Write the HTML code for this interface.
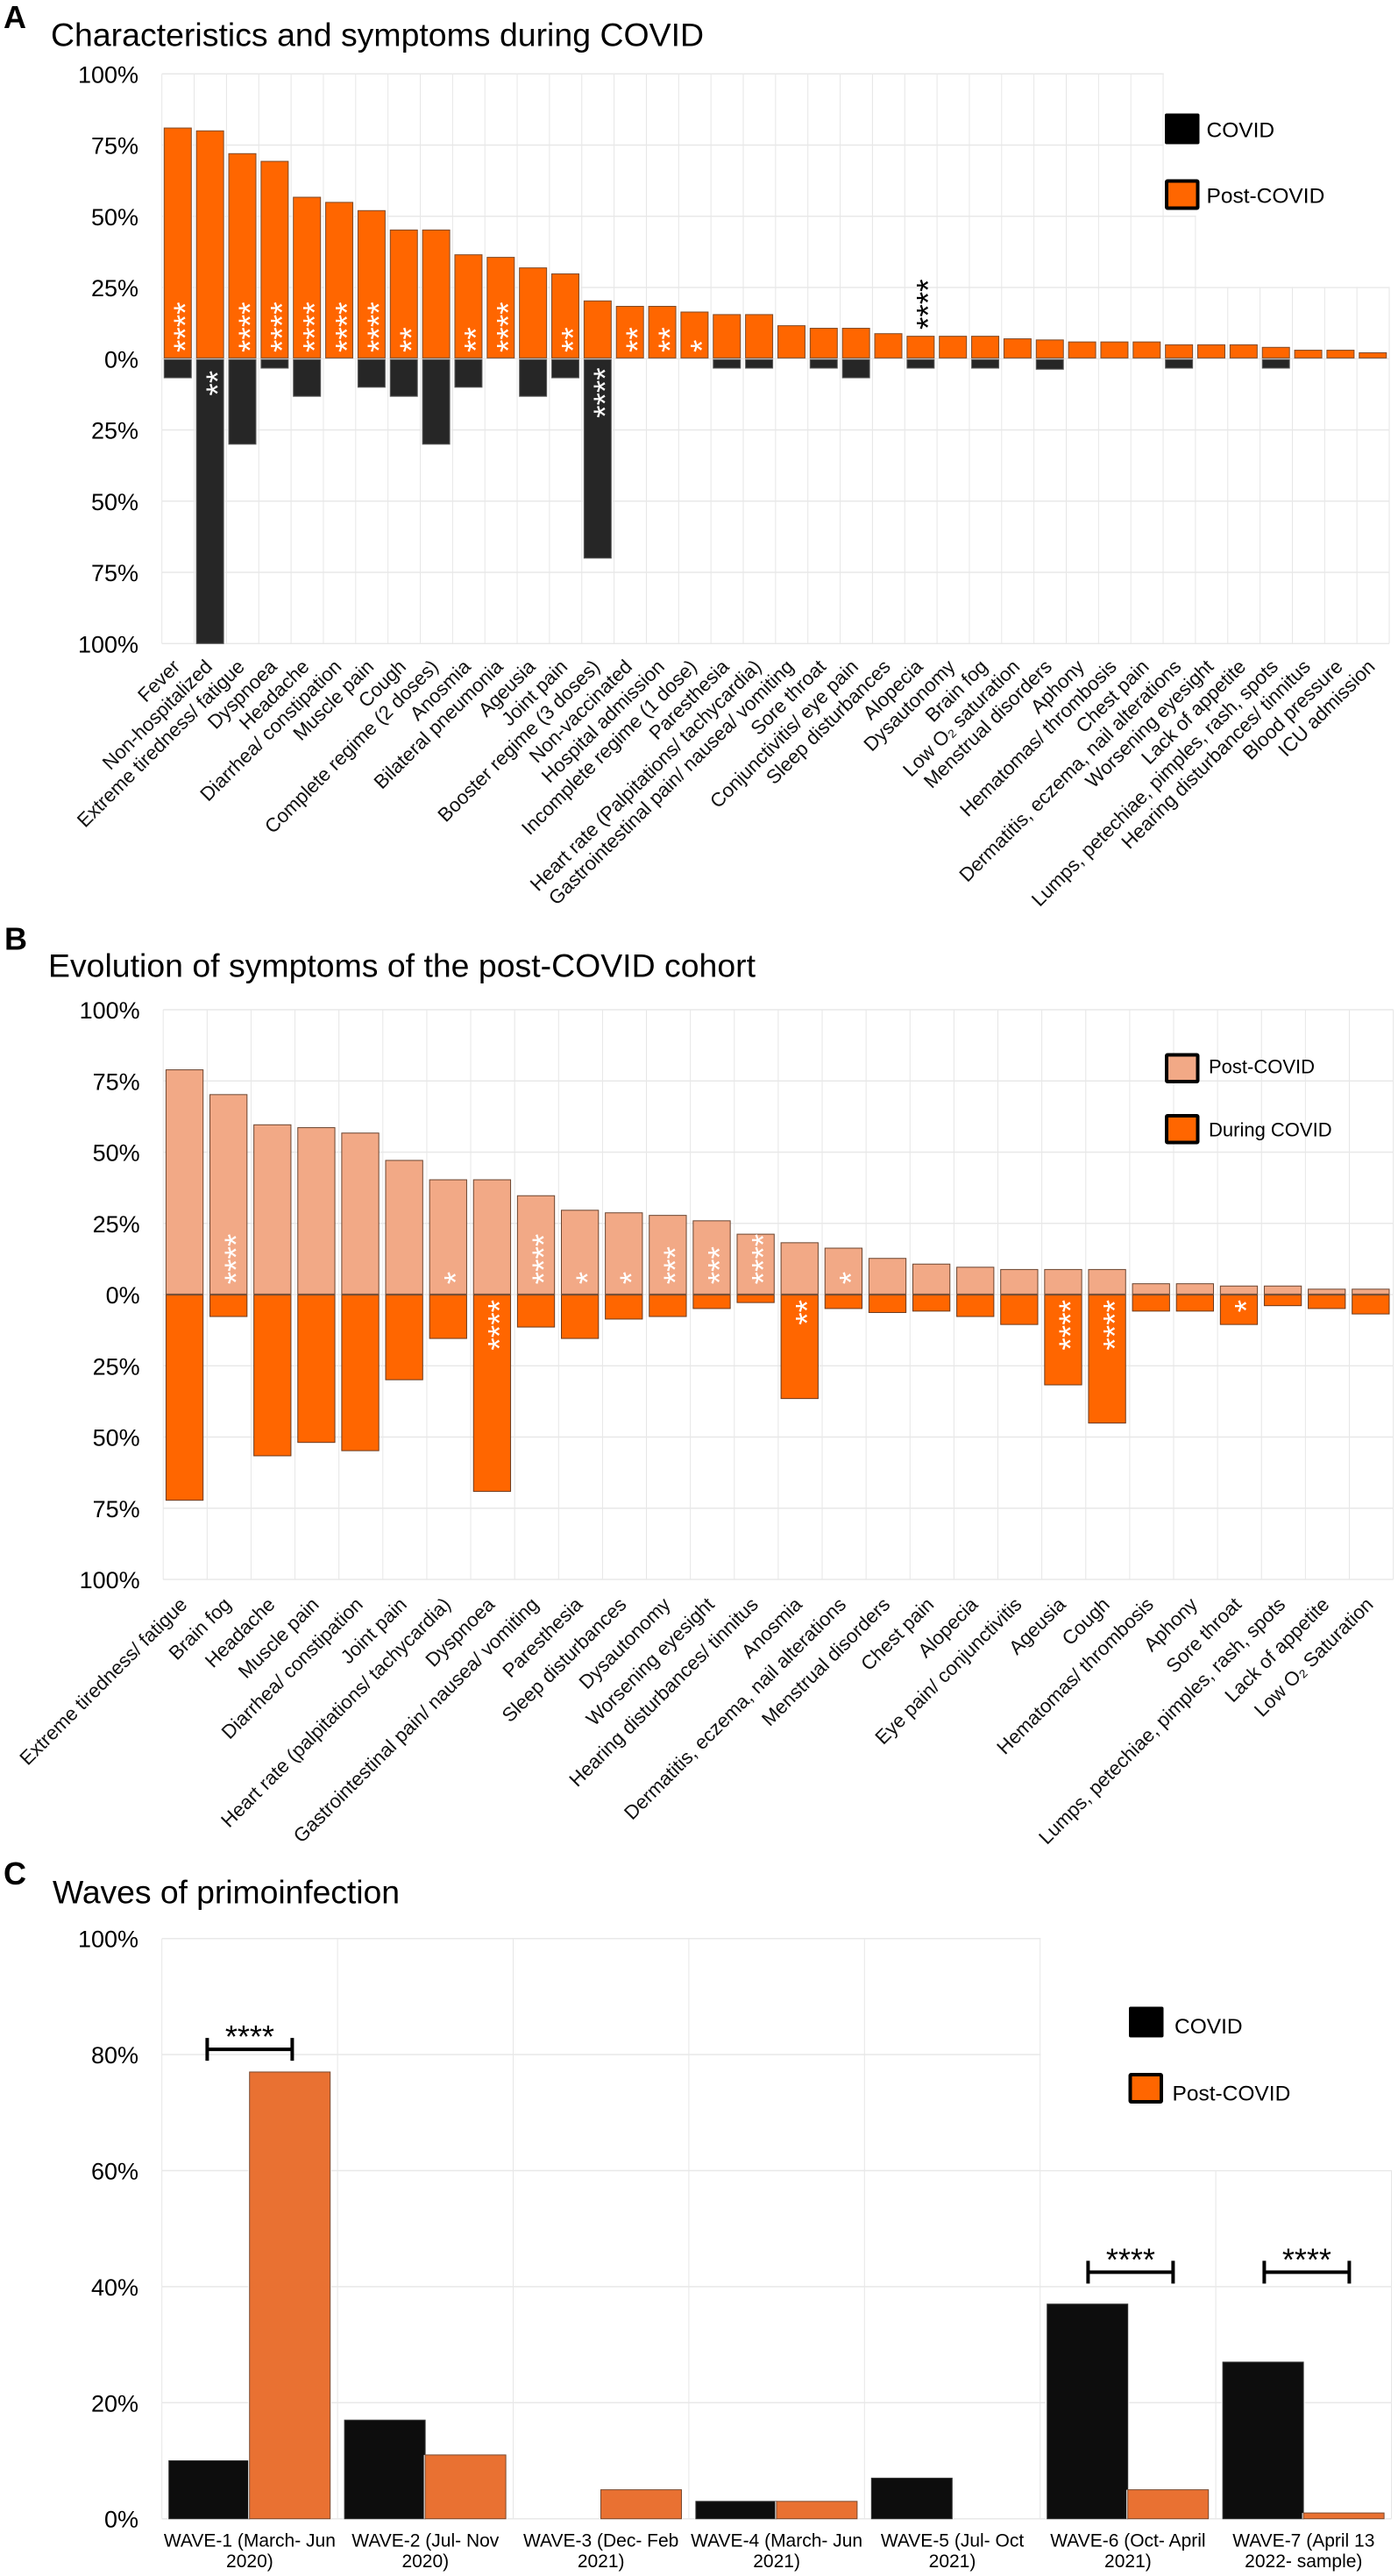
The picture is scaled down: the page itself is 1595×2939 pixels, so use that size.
<!DOCTYPE html>
<html lang="en">
<head>
<meta charset="utf-8">
<title>COVID and post-COVID characteristics, symptoms and waves</title>
<style>
  html, body { margin: 0; padding: 0; background: #ffffff; }
  svg { display: block; font-family: "Liberation Sans", Arial, sans-serif; }
</style>
</head>
<body>
<svg id="figure" xmlns="http://www.w3.org/2000/svg" width="1595" height="2939" viewBox="0 0 1595 2939">
  <rect x="0" y="0" width="1595" height="2939" fill="#ffffff"/>
  <text x="4" y="32" font-size="36" font-weight="bold" fill="#000">A</text>
  <text x="58" y="52.5" font-size="37.4" textLength="745" fill="#000">Characteristics and symptoms during COVID</text>
  <text x="5" y="1083.5" font-size="36" font-weight="bold" fill="#000">B</text>
  <text x="55" y="1114.5" font-size="37.4" textLength="807" fill="#000">Evolution of symptoms of the post-COVID cohort</text>
  <text x="4" y="2150" font-size="36" font-weight="bold" fill="#000">C</text>
  <text x="60" y="2171.5" font-size="37.4" textLength="396" fill="#000">Waves of primoinfection</text>
  <g id="panel-a"></g>
  <g id="panel-b"></g>
  <g id="panel-c"></g>
  <g>
    <rect x="1329" y="129.5" width="39.5" height="35" rx="2" fill="#000"/>
    <text x="1376.5" y="156.5" font-size="24.5" fill="#000">COVID</text>
    <rect x="1331" y="206.5" width="35.5" height="31" rx="1" fill="#ff6600" stroke="#000" stroke-width="4"/>
    <text x="1376.5" y="231.5" font-size="24.5" fill="#000">Post-COVID</text>
  </g>
  <g>
    <rect x="1331" y="1203.5" width="35.5" height="30.5" rx="1" fill="#f2a986" stroke="#000" stroke-width="4"/>
    <text x="1379" y="1224.5" font-size="22" fill="#000">Post-COVID</text>
    <rect x="1331" y="1273" width="35.5" height="30.5" rx="1" fill="#ff6600" stroke="#000" stroke-width="4"/>
    <text x="1379" y="1296.5" font-size="22" fill="#000">During COVID</text>
  </g>
  <g>
    <rect x="1288" y="2289.5" width="39.5" height="35" rx="2" fill="#000"/>
    <text x="1340" y="2320" font-size="24.5" fill="#000">COVID</text>
    <rect x="1289.5" y="2367" width="35.5" height="31" rx="1" fill="#ff6600" stroke="#000" stroke-width="4"/>
    <text x="1337.5" y="2396.5" font-size="24.5" fill="#000">Post-COVID</text>
  </g>
</svg>
<script>
// ---------- Panel A data ----------
const aCategories = ["Fever","Non-hospitalized","Extreme tiredness/ fatigue","Dyspnoea","Headache","Diarrhea/ constipation","Muscle pain","Cough","Complete regime (2 doses)","Anosmia","Bilateral pneumonia","Ageusia","Joint pain","Booster regime (3 doses)","Non-vaccinated","Hospital admission","Incomplete regime (1 dose)","Paresthesia","Heart rate (Palpitations/ tachycardia)","Gastrointestinal pain/ nausea/ vomiting","Sore throat","Conjunctivitis/ eye pain","Sleep disturbances","Alopecia","Dysautonomy","Brain fog","Low O₂ saturation","Menstrual disorders","Aphony","Hematomas/ thrombosis","Chest pain","Dermatitis, eczema, nail alterations","Worsening eyesight","Lack of appetite","Lumps, petechiae, pimples, rash, spots","Hearing disturbances/ tinnitus","Blood pressure","ICU admission"];
const aPostValues = [81,80,72,69.3,56.7,54.9,52,45.2,45.2,36.5,35.6,31.9,29.8,20.3,18.4,18.4,16.4,15.5,15.5,11.6,10.7,10.7,8.8,7.9,7.9,7.9,7,6.6,5.9,5.9,5.9,4.9,4.9,4.9,4,3,3,2.1];
const aCovidValues = [6.7,100,30,3.3,13.2,0,10,13.2,30,10,0,13.2,6.7,70,0,0,0,3.3,3.3,0,3.3,6.7,0,3.3,0,3.3,0,3.7,0,0,0,3.3,0,0,3.3,0,0,0];
const aPostStars = [4,0,4,4,4,4,4,2,0,2,4,0,2,0,2,2,1,0,0,0,0,0,0,0,0,0,0,0,0,0,0,0,0,0,0,0,0,0];
const aCovidStars = [0,2,0,0,0,0,0,0,0,0,0,0,0,4,0,0,0,0,0,0,0,0,0,0,0,0,0,0,0,0,0,0,0,0,0,0,0,0];
const aAboveBarStars = [0,0,0,0,0,0,0,0,0,0,0,0,0,0,0,0,0,0,0,0,0,0,0,4,0,0,0,0,0,0,0,0,0,0,0,0,0,0];

// ---------- Panel B data ----------
const bCategories = ["Extreme tiredness/ fatigue","Brain fog","Headache","Muscle pain","Diarrhea/ constipation","Joint pain","Heart rate (palpitations/ tachycardia)","Dyspnoea","Gastrointestinal pain/ nausea/ vomiting","Paresthesia","Sleep disturbances","Dysautonomy","Worsening eyesight","Hearing disturbances/ tinnitus","Anosmia","Dermatitis, eczema, nail alterations","Menstrual disorders","Chest pain","Alopecia","Eye pain/ conjunctivitis","Ageusia","Cough","Hematomas/ thrombosis","Aphony","Sore throat","Lumps, petechiae, pimples, rash, spots","Lack of appetite","Low O₂ Saturation"];
const bPostValues = [78.9,70.2,59.6,58.6,56.7,47.1,40.3,40.3,34.7,29.6,28.7,27.8,25.9,21.2,18.2,16.3,12.7,10.7,9.6,8.8,8.8,8.8,3.8,3.8,3,3,1.9,1.9];
const bDuringValues = [72.2,7.7,56.6,51.9,54.8,29.9,15.4,69.1,11.4,15.4,8.6,7.7,4.9,2.8,36.5,4.9,6.3,5.8,7.7,10.5,31.7,45.1,5.8,5.8,10.5,3.9,4.9,6.8];
const bPostStars = [0,4,0,0,0,0,1,0,4,1,1,3,3,4,0,1,0,0,0,0,0,0,0,0,0,0,0,0];
const bDuringStars = [0,0,0,0,0,0,0,4,0,0,0,0,0,0,2,0,0,0,0,0,4,4,0,0,1,0,0,0];

// ---------- Panel C data ----------
const cCategoryLine1 = ["WAVE-1 (March- Jun","WAVE-2 (Jul- Nov","WAVE-3 (Dec- Feb","WAVE-4 (March- Jun","WAVE-5 (Jul- Oct","WAVE-6 (Oct- April","WAVE-7 (April 13"];
const cCategoryLine2 = ["2020)","2020)","2021)","2021)","2021)","2021)","2022- sample)"];
const cCovidValues = [10,17,0,3,7,37,27];
const cPostValues = [77,11,5,3,0,5,1];
const cBracketLevels = [80.9,null,null,null,null,42.5,42.5];

// ---------- Tick labels ----------
const divergingTicks = [100,75,50,25,0,-25,-50,-75,-100];
const cTicks = [100,80,60,40,20,0];

const SVGNS = 'http://www.w3.org/2000/svg';
function mk(tag, attrs, parent, text) {
  const el = document.createElementNS(SVGNS, tag);
  for (const k in attrs) el.setAttribute(k, attrs[k]);
  if (text !== undefined) el.textContent = text;
  parent.appendChild(el);
  return el;
}
function drawGrid(parent, left, right, top, bottom, cellCount, tickValues, y) {
  const cell = (right - left) / cellCount;
  for (let i = 0; i <= cellCount; i++) {
    const el = mk('line', {x1: left + i * cell, x2: left + i * cell, y1: top, y2: bottom, stroke: '#e6e6e6', 'stroke-width': 1}, parent);
    
    
  }
  tickValues.forEach(function (t) {
    const el = mk('line', {x1: left, x2: right, y1: y(t), y2: y(t), stroke: '#e8e8e8', 'stroke-width': 1.5}, parent);
    
    
  });
}
function drawTicks(parent, tickValues, y, labelX) {
  tickValues.forEach(function (t) {
    const el = mk('text', {x: labelX, y: y(t) + 10, 'font-size': 27, 'text-anchor': 'end', fill: '#000'}, parent, Math.abs(t) + '%');
    
    
  });
}
function drawMask(parent, x, y, w, h) {
  const el = mk('rect', {x: x, y: y, width: w, height: h, fill: '#ffffff'}, parent);
  
  
}
function drawBar(parent, x, w, y1, y2, fill, stroke, halo) {
  const top = Math.min(y1, y2), h = Math.abs(y2 - y1);
  if (halo) {
    const bg = mk('rect', {x: x - halo, y: top, width: w + 2 * halo, height: h, fill: '#ffffff'}, parent);
    
    
  }
  const el = mk('rect', {x: x, y: top, width: w, height: h, fill: fill, stroke: stroke, 'stroke-width': 1}, parent);
  
  
}
function drawVerticalStars(parent, cx, bottomY, count, color) {
  const size = 37;
  const bx = cx + 0.575 * size;
  const el = mk('text', {x: bx, y: bottomY + 1, 'font-size': size, fill: color, transform: 'rotate(-90 ' + bx + ' ' + (bottomY + 1) + ')'}, parent, '*'.repeat(count));
  
  
}
function drawRotatedLabel(parent, ax, ay, label) {
  const el = mk('text', {x: ax, y: ay, 'font-size': 22.3, 'text-anchor': 'end', fill: '#111', transform: 'rotate(-45 ' + ax + ' ' + ay + ')'}, parent, label);
  
  
}

// ---------- Panel A ----------
(function () {
  const g = document.getElementById('panel-a');
  const left = 184.7, right = 1585, zero = 409.3, unit = 3.25, n = aCategories.length;
  const cell = (right - left) / n;
  const yA = function (v) { return zero - v * unit; };
  const xA = function (i) { return left + i * cell; };
  drawGrid(g, left, right, yA(100), yA(-100), n, divergingTicks, yA);
  drawMask(g, xA(31) + 0.7, 78, 280, 167.9);
  drawMask(g, xA(32) + 0.7, 245, 240, 82.3);
  drawTicks(g, divergingTicks, yA, 158);
  const barW = 31, pad = 2.6;
  aCategories.forEach(function (c, i) {
    const x = xA(i) + pad;
    drawBar(g, x, barW, yA(aPostValues[i]), zero - 0.9, '#ff6600', '#7d4a28', 1.5);
    if (aCovidValues[i] > 0) drawBar(g, x, barW, zero + 0.9, yA(-aCovidValues[i]), '#262626', '#5c5c5c', 1.5);
    const cx = x + barW / 2;
    if (aPostStars[i]) drawVerticalStars(g, cx, 401, aPostStars[i], '#ffffff');
    if (aCovidStars[i]) drawVerticalStars(g, cx, zero + 9 + (aCovidStars[i] < 4 ? 3.5 : 0) + aCovidStars[i] * 14.4, aCovidStars[i], '#ffffff');
    if (aAboveBarStars[i]) drawVerticalStars(g, cx, yA(aPostValues[i]) - 8.6, aAboveBarStars[i], '#000000');
    drawRotatedLabel(g, xA(i) + cell / 2 + 3.5, 762, c);
  });
})();

// ---------- Panel B ----------
(function () {
  const g = document.getElementById('panel-b');
  const left = 186.2, right = 1589.6, zero = 1477, unit = 3.25, n = bCategories.length;
  const cell = (right - left) / n;
  const yB = function (v) { return zero - v * unit; };
  const xB = function (i) { return left + i * cell; };
  drawGrid(g, left, right, yB(100), yB(-100), n, divergingTicks, yB);
  drawTicks(g, divergingTicks, yB, 159.7);
  const barW = 42.3, pad = 3.2;
  bCategories.forEach(function (c, i) {
    const x = xB(i) + pad;
    drawBar(g, x, barW, yB(bPostValues[i]), zero - 0.6, '#f2a986', '#6b4530', 0);
    drawBar(g, x, barW, zero + 0.6, yB(-bDuringValues[i]), '#ff6600', '#6b3a1c', 0);
    const cx = x + barW / 2;
    if (bPostStars[i]) drawVerticalStars(g, cx, 1464.3, bPostStars[i], '#ffffff');
    if (bDuringStars[i]) drawVerticalStars(g, cx, zero + 5 + bDuringStars[i] * 14.4, bDuringStars[i], '#ffffff');
    drawRotatedLabel(g, xB(i) + cell / 2 + 3.5, 1832, c);
  });
})();

// ---------- Panel C ----------
(function () {
  const g = document.getElementById('panel-c');
  const left = 184.7, right = 1587.5, zero = 2873.7, unit = 6.62, n = cCategoryLine1.length;
  const cell = (right - left) / n;
  const yC = function (v) { return zero - v * unit; };
  const xC = function (i) { return left + i * cell; };
  drawGrid(g, left, right, yC(100), yC(0), n, cTicks, yC);
  drawMask(g, xC(5) + 0.7, 2205, 410, 271);
  drawTicks(g, cTicks, yC, 158);
  const barW = 92, pad = 8;
  cCategoryLine1.forEach(function (line1, i) {
    const x = xC(i) + pad;
    if (cCovidValues[i] > 0) drawBar(g, x, barW, yC(cCovidValues[i]), zero, '#0d0d0d', '#333333', 1.5);
    if (cPostValues[i] > 0) drawBar(g, x + barW, barW, yC(cPostValues[i]), zero, '#e97132', '#7a4a30', 1.5);
    const cx = xC(i) + cell / 2;
    const l1 = mk('text', {x: cx, y: 2905.7, 'font-size': 21, 'text-anchor': 'middle', fill: '#000'}, g, line1);
    
    
    const l2 = mk('text', {x: cx, y: 2929, 'font-size': 21, 'text-anchor': 'middle', fill: '#000'}, g, cCategoryLine2[i]);
    
    
    if (cBracketLevels[i] !== null) {
      const by = yC(cBracketLevels[i]);
      const bx = cx + i * 0.6;
      const path = mk('path', {d: 'M' + (bx - 48.5) + ' ' + (by - 13) + 'V' + (by + 13) + 'M' + (bx - 48.5) + ' ' + by + 'H' + (bx + 48.5) + 'M' + (bx + 48.5) + ' ' + (by - 13) + 'V' + (by + 13), fill: 'none', stroke: '#000', 'stroke-width': 4}, g);
      
      
      const st = mk('text', {x: bx, y: by - 2, 'font-size': 36, 'text-anchor': 'middle', fill: '#000'}, g, '****');
      
      
    }
  });
})();
</script>
</body>
</html>
